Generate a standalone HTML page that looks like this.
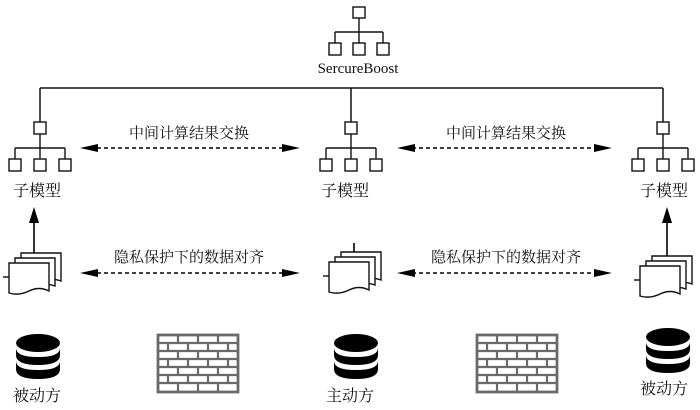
<!DOCTYPE html>
<html><head><meta charset="utf-8"><style>
html,body{margin:0;padding:0;background:#fff;}
svg{display:block;}
text{font-family:"Liberation Serif","Noto Serif CJK SC",serif;fill:#111;}
</style></head><body>
<svg width="700" height="410" viewBox="0 0 700 410" xmlns="http://www.w3.org/2000/svg">
<defs>
<g id="tree" stroke="#111" stroke-width="1.4" fill="#fff">
<line x1="0" y1="12" x2="0" y2="26"/>
<line x1="-25" y1="26" x2="25" y2="26"/>
<line x1="-25" y1="26" x2="-25" y2="37"/>
<line x1="0" y1="26" x2="0" y2="37"/>
<line x1="25" y1="26" x2="25" y2="37"/>
<rect x="-6" y="0" width="12" height="12"/>
<rect x="-31" y="37" width="12" height="12"/>
<rect x="-6" y="37" width="12" height="12"/>
<rect x="19" y="37" width="12" height="12"/>
</g>
<g id="doc" stroke="#111" stroke-width="1.4" fill="#fff">
<path d="M16 0 H56 V28 Q46 24 36 30 T16 32 Z"/>
<path d="M10 5 H50 V33 Q40 29 30 35 T10 37 Z"/>
<path d="M4 10 H44 V38 Q34 33 24 38 T4 40 Z"/>
<line x1="-2" y1="24" x2="4" y2="24"/>
</g>
<g id="db" fill="#000">
<ellipse cx="0" cy="0" rx="22" ry="9"/>
<path d="M-22 5 Q-22 14 0 14 Q22 14 22 5 V12 Q22 22 0 22 Q-22 22 -22 12 Z"/>
<path d="M-22 18 Q-22 27 0 27 Q22 27 22 18 V26 Q22 36 0 36 Q-22 36 -22 26 Z"/>
</g>
<g id="wall">
<rect x="0" y="0" width="80" height="57" fill="#fff" stroke="#6a6a6a" stroke-width="2.8"/>
<g stroke="#6a6a6a" stroke-width="2.2">
<line x1="0" y1="8" x2="80" y2="8"/><line x1="0" y1="16" x2="80" y2="16"/>
<line x1="0" y1="24" x2="80" y2="24"/><line x1="0" y1="32" x2="80" y2="32"/>
<line x1="0" y1="40" x2="80" y2="40"/><line x1="0" y1="48" x2="80" y2="48"/>
<path d="M20 0V8M40 0V8M60 0V8 M10 8V16M30 8V16M50 8V16M70 8V16 M20 16V24M40 16V24M60 16V24 M10 24V32M30 24V32M50 24V32M70 24V32 M20 32V40M40 32V40M60 32V40 M10 40V48M30 40V48M50 40V48M70 40V48 M20 48V57M40 48V57M60 48V57"/>
</g>
</g>
</defs>

<g transform="translate(359,7)">
<g stroke="#111" stroke-width="1.4" fill="#fff">
<line x1="0" y1="11" x2="0" y2="25"/>
<line x1="-24" y1="25" x2="24" y2="25"/>
<line x1="-24" y1="25" x2="-24" y2="36"/>
<line x1="0" y1="25" x2="0" y2="36"/>
<line x1="24" y1="25" x2="24" y2="36"/>
<rect x="-6" y="0" width="12" height="11"/>
<rect x="-30" y="36" width="12" height="12"/>
<rect x="-6" y="36" width="12" height="12"/>
<rect x="18" y="36" width="12" height="12"/>
</g></g>
<text x="358" y="73" font-size="15" text-anchor="middle">SercureBoost</text>

<g stroke="#111" stroke-width="1.5" fill="none">
<line x1="40" y1="88" x2="663" y2="88"/>
<line x1="40" y1="88" x2="40" y2="122"/>
<line x1="351" y1="88" x2="351" y2="122"/>
<line x1="663" y1="88" x2="663" y2="122"/>
</g>

<use href="#tree" transform="translate(40,122)"/>
<use href="#tree" transform="translate(351,122)"/>
<use href="#tree" transform="translate(663,122)"/>

<g font-size="16" text-anchor="middle">
<text x="37" y="196">子模型</text>
<text x="345" y="196">子模型</text>
<text x="664" y="196">子模型</text>
</g>

<g stroke="#000" stroke-width="1.6" stroke-dasharray="4,3" fill="none">
<line x1="90" y1="148" x2="292" y2="148"/>
<line x1="405" y1="148" x2="605" y2="148"/>
<line x1="90" y1="273" x2="292" y2="273"/>
<line x1="405" y1="273" x2="605" y2="273"/>
</g>
<g fill="#000">
<path d="M80 148 L98 144 L98 152 Z"/><path d="M300 148 L282 144 L282 152 Z"/>
<path d="M397 148 L415 144 L415 152 Z"/><path d="M612 148 L594 144 L594 152 Z"/>
<path d="M80 273 L98 269 L98 277 Z"/><path d="M300 273 L282 269 L282 277 Z"/>
<path d="M397 273 L415 269 L415 277 Z"/><path d="M612 273 L594 269 L594 277 Z"/>
</g>
<g font-size="15" text-anchor="middle">
<text x="189" y="138">中间计算结果交换</text>
<text x="506" y="138">中间计算结果交换</text>
<text x="189" y="262">隐私保护下的数据对齐</text>
<text x="506" y="262">隐私保护下的数据对齐</text>
</g>

<g stroke="#000" stroke-width="1.6">
<line x1="34" y1="258" x2="34" y2="220"/>
<line x1="667" y1="258" x2="667" y2="220"/>
<line x1="354" y1="252" x2="354" y2="243"/>
</g>
<path d="M34 207 L29 223 L39 223 Z" fill="#000"/>
<path d="M667 207 L662 223 L672 223 Z" fill="#000"/>

<use href="#doc" transform="translate(5,253)"/>
<use href="#doc" transform="translate(325,252)"/>
<use href="#doc" transform="translate(636,256)"/>

<use href="#db" transform="translate(38,343)"/>
<use href="#db" transform="translate(356,343)"/>
<use href="#db" transform="translate(668,337)"/>

<use href="#wall" transform="translate(158,335)"/>
<use href="#wall" transform="translate(477,335)"/>

<g font-size="16" text-anchor="middle">
<text x="37" y="401">被动方</text>
<text x="350" y="401">主动方</text>
<text x="664" y="394">被动方</text>
</g>
</svg>
</body></html>
